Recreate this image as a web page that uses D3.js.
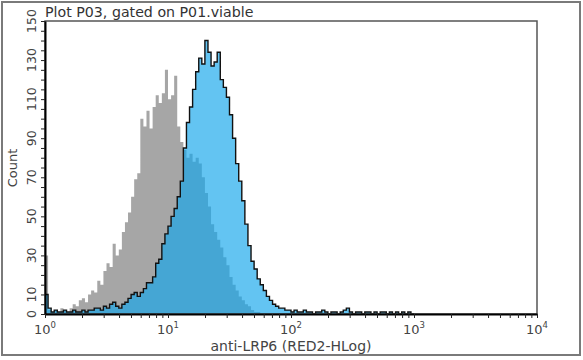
<!DOCTYPE html>
<html><head><meta charset="utf-8">
<script src="https://cdn.jsdelivr.net/npm/d3@7/dist/d3.min.js"></script>
<style>
body{margin:0;background:#fff;}
svg{display:block;font-family:"DejaVu Sans",Verdana,sans-serif;}
</style>
</head><body>
<svg id="chart" width="583" height="360"></svg>
<script>
// ---- data ----
const title = "Plot P03, gated on P01.viable";
const xLabel = "anti-LRP6 (RED2-HLog)";
const yLabel = "Count";
const binStep = 0.025; // decades per channel
const controlCounts = [30,2,1,2,1,3,2,1,3,5,4,7,8,6,10,12,11,17,15,22,26,24,36,30,33,42,47,52,60,69,72,100,96,104,95,106,112,108,113,125,110,112,122,96,88,84,80,82,78,80,77,70,62,55,46,42,38,34,29,25,19,15,12,9,7,5,4,2,1,1];
const lrp6Counts = [10,3,1,2,1,1,2,1,1,2,1,1,2,1,2,2,3,3,2,4,3,5,6,4,3,5,6,8,10,11,9,11,13,16,16,19,26,28,36,41,45,50,54,60,68,85,98,106,115,124,131,128,140,134,127,129,134,120,116,111,102,90,77,68,58,46,35,27,23,18,15,12,9,7,5,4,3,3,2,2,1,2,1,1,2,1,1,0,1,1,2,1,0,1,1,0,1,2,3,1,0,1,1,0,1,1,0,1,0,1,1,0,1,0,1,0,1,0,1,0];
const yTicks = [0,5,10,15,20,25,30,35,40,45,50,55,60,65,70,75,80,85,90,95,100,105,110,115,120,125,130,135,140,145,150];
const yTickLabels = [0,10,30,50,70,90,110,130,150];
const xDecades = [0,1,2,3,4];

// ---- layout ----
const svg = d3.select("#chart");
const L = 45, R = 537, T = 21, B = 314;
const x = d3.scaleLog().domain([1, 1e4]).range([L, R]);
const y = d3.scaleLinear().domain([0, 150]).range([B, T]);

// outer frame
svg.append("rect").attr("x",2).attr("y",2).attr("width",578).attr("height",353)
  .attr("fill","#fff").attr("stroke","#7a7a7a").attr("stroke-width",2);

// title
svg.append("text").attr("x",L).attr("y",17).attr("font-size",14.2).attr("fill","#333").text(title);

// clip
svg.append("clipPath").attr("id","plotclip").append("rect")
  .attr("x",L).attr("y",T).attr("width",R-L).attr("height",B-T);

function stepPoints(counts){
  const pts = counts.map((c,i)=>[Math.pow(10,i*binStep), c]);
  pts.push([Math.pow(10,counts.length*binStep), counts[counts.length-1]]);
  pts.push([Math.pow(10,counts.length*binStep), 0]);
  return pts;
}
const area = d3.area().curve(d3.curveStepAfter)
  .x(d=>x(d[0])).y0(y(0)).y1(d=>y(d[1]));
const line = d3.line().curve(d3.curveStepAfter)
  .x(d=>x(d[0])).y(d=>y(d[1]));

const g = svg.append("g").attr("clip-path","url(#plotclip)");
g.append("path").datum(stepPoints(controlCounts)).attr("d",area)
  .attr("fill","#a6a6a6");
g.append("path").datum(stepPoints(lrp6Counts)).attr("d",area)
  .attr("fill","rgb(18,165,236)").attr("fill-opacity",0.66);
g.append("path").datum(stepPoints(lrp6Counts)).attr("d",line)
  .attr("fill","none").attr("stroke","#111").attr("stroke-width",1.4);

// plot frame (top/right)
svg.append("rect").attr("x",L).attr("y",T).attr("width",R-L).attr("height",B-T)
  .attr("fill","none").attr("stroke","#555").attr("stroke-width",1.5);

// y axis
const yAxis = svg.append("g").attr("transform",`translate(${L},0)`)
  .call(d3.axisLeft(y).tickValues(yTicks).tickSize(4).tickSizeOuter(0).tickFormat(""));
yAxis.select(".domain").attr("stroke","#000").attr("stroke-width",2);
yAxis.selectAll(".tick line").attr("stroke","#222");
svg.append("g").selectAll("text").data(yTickLabels).join("text")
  .attr("transform",d=>`translate(36,${y(d)}) rotate(-90)`)
  .attr("text-anchor","middle").attr("font-size",12.5).attr("fill","#444")
  .text(d=>d);

// x axis
const xTicks = [];
xDecades.forEach(dk=>{ for(let m=1;m<=9;m++){ const v=m*Math.pow(10,dk); if(v<=1e4) xTicks.push(v);} });
const xAxis = svg.append("g").attr("transform",`translate(0,${B})`)
  .call(d3.axisBottom(x).tickValues(xTicks).tickSize(4).tickSizeOuter(0).tickFormat(""));
xAxis.select(".domain").attr("stroke","#000").attr("stroke-width",2);
xAxis.selectAll(".tick line").attr("stroke","#222");
const xl = svg.append("g").selectAll("text").data(xDecades).join("text")
  .attr("x",d=>x(Math.pow(10,d))).attr("y",334)
  .attr("text-anchor","middle").attr("font-size",13).attr("fill","#444");
xl.append("tspan").text("10");
xl.append("tspan").attr("dy",-6).attr("font-size",8.5).text(d=>d);

// axis titles
svg.append("text").attr("x",(L+R)/2).attr("y",351).attr("text-anchor","middle")
  .attr("font-size",14).attr("fill","#444").text(xLabel);
svg.append("text").attr("transform",`translate(17,168) rotate(-90)`)
  .attr("text-anchor","middle").attr("font-size",13).attr("fill","#444").text(yLabel);
</script>
</body></html>
